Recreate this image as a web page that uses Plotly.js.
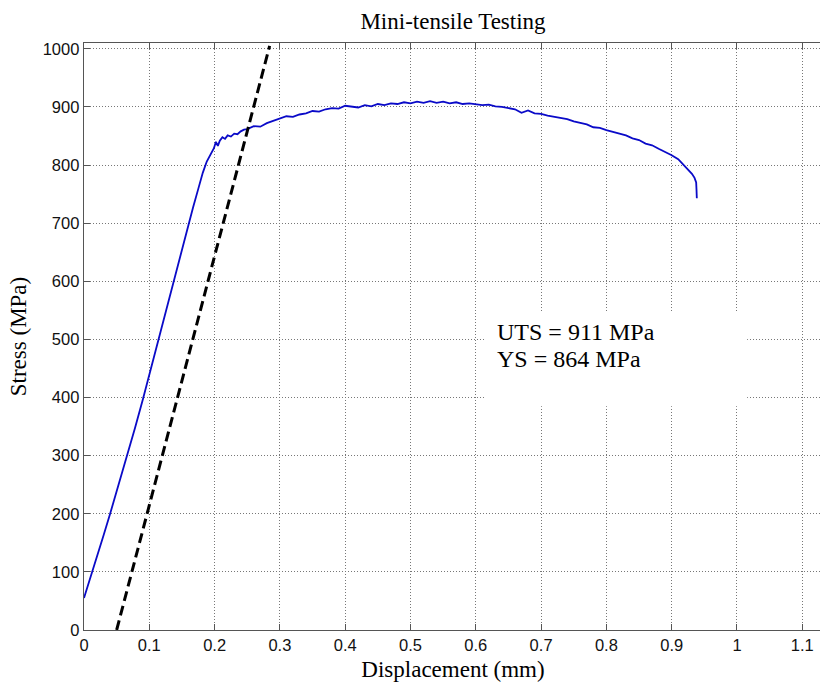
<!DOCTYPE html>
<html><head><meta charset="utf-8">
<script src="https://cdn.plot.ly/plotly-3.0.1.min.js"></script>
<style>html,body{margin:0;padding:0;background:#fff;overflow:hidden;width:820px;height:682px;}#chart{width:830px;height:682px;}</style>
</head><body><div id="chart"></div>
<script>
// Measured curve: displacement (mm) and stress (MPa)
const displacement = [0,0.006,0.012,0.02,0.03,0.04,0.048,0.057,0.0665,0.078,0.09,0.101,0.113,0.125,0.1375,0.149,0.158,0.167,0.175,0.182,0.188,0.195,0.199,0.202,0.205,0.208,0.212,0.216,0.22,0.225,0.23,0.235,0.24,0.245,0.25,0.26,0.27,0.28,0.29,0.30,0.31,0.32,0.33,0.34,0.35,0.36,0.37,0.38,0.39,0.40,0.41,0.42,0.43,0.44,0.45,0.46,0.47,0.48,0.49,0.50,0.51,0.52,0.53,0.54,0.55,0.56,0.57,0.58,0.59,0.60,0.61,0.62,0.63,0.64,0.65,0.66,0.67,0.68,0.69,0.70,0.71,0.72,0.73,0.74,0.75,0.76,0.77,0.78,0.79,0.80,0.81,0.82,0.83,0.84,0.85,0.86,0.87,0.88,0.89,0.90,0.91,0.918,0.925,0.931,0.935,0.9375,0.938,0.9385];
const stress = [55,76,98,127,163,200,230,264,301,347,396,444,494,546,600,651,691,727,759,787,806,820,829,840,833,842,848,845,851,849,854,853,858,861,862,867,866,872,876,880,884,883,887,889,893,892,896,898,897,902,900,899,903,901,905,903,906,905,908,906,909,907,910,907,909,906,908,905,906,904,903,904,901,900,898,896,890,894,889,888,885,883,880,879,875,873,870,865,864,860,857,853,851,846,843,837,834,828,823,817,810,800,793,785,778,770,758,743];
// Offset elastic line
const offsetX = [0.05, 0.2843];
const offsetY = [0, 1005];
// Tick labels
const xTicks = [0,0.1,0.2,0.3,0.4,0.5,0.6,0.7,0.8,0.9,1,1.1];
const xTickText = ['0','0.1','0.2','0.3','0.4','0.5','0.6','0.7','0.8','0.9','1','1.1'];
const yTicks = [0,100,200,300,400,500,600,700,800,900,1000];
const yTickText = ['0','100','200','300','400','500','600','700','800','900','1000'];
const labels = ['UTS = 911 MPa','YS = 864 MPa'];

const serif = 'Liberation Serif, Times New Roman, serif';
const sans = 'Liberation Sans, Arial, sans-serif';
const xRange = [0, 1.1302];

const traces = [
  {x: displacement, y: stress, type:'scatter', mode:'lines', name:'Stress',
   line:{color:'#0a0ac8', width:1.8}, hoverinfo:'x+y'},
  {x: offsetX, y: offsetY, type:'scatter', mode:'lines', name:'Offset line',
   line:{color:'#000000', width:3, dash:'10px,5px'}, hoverinfo:'x+y'},
  // invisible trace that carries the top axis (box top with inward ticks)
  {x: offsetX, y: offsetY, type:'scatter', mode:'lines', xaxis:'x2', yaxis:'y',
   line:{color:'rgba(0,0,0,0)', width:0}, hoverinfo:'skip', showlegend:false}
];

const axisCommon = {
  showline:true, linecolor:'#555', linewidth:1.3,
  ticks:'inside', ticklen:6, tickwidth:1, tickcolor:'#555',
  showgrid:true, gridcolor:'#777', gridwidth:1, griddash:'1px,2px',
  zeroline:false, tickfont:{family:sans, size:16.5, color:'#111'},
  tickmode:'array'
};

const layout = {
  width:830, height:682,
  margin:{l:84, r:8, t:43, b:52},
  paper_bgcolor:'#fff', plot_bgcolor:'#fff',
  showlegend:false,
  title:{text:'Mini-tensile Testing', font:{family:serif, size:23, color:'#000'},
         x:0.5, xref:'paper', xanchor:'center', y:1-21/682, yref:'container', yanchor:'middle'},
  xaxis:Object.assign({}, axisCommon, {
    range:xRange, tickvals:xTicks, ticktext:xTickText, mirror:false,
    title:{text:'Displacement (mm)', font:{family:serif, size:23, color:'#000'}, standoff:8}
  }),
  xaxis2:{overlaying:'x', side:'top', range:xRange, tickmode:'array', tickvals:xTicks,
    showticklabels:false, showline:true, linecolor:'#555', linewidth:1.3,
    ticks:'inside', ticklen:6, tickwidth:1, tickcolor:'#555', showgrid:false, zeroline:false},
  yaxis:Object.assign({}, axisCommon, {
    range:[0,1010], tickvals:yTicks, ticktext:yTickText, mirror:false,
    title:{text:'Stress (MPa)', font:{family:serif, size:23, color:'#000'}, standoff:9}
  }),
  shapes:[{type:'rect', xref:'x', yref:'y', x0:0.6126, x1:1.0156, y0:385, y1:546,
           fillcolor:'#ffffff', line:{width:0}, layer:'between'}],
  annotations:[
    {text:labels[0], x:0.629, y:513, xref:'x', yref:'y', xanchor:'left', yanchor:'middle',
     showarrow:false, font:{family:serif, size:24, color:'#000'}},
    {text:labels[1], x:0.629, y:466.7, xref:'x', yref:'y', xanchor:'left', yanchor:'middle',
     showarrow:false, font:{family:serif, size:24, color:'#000'}}
  ]
};

Plotly.newPlot('chart', traces, layout, {displayModeBar:false, staticPlot:true});
</script>
</body></html>
